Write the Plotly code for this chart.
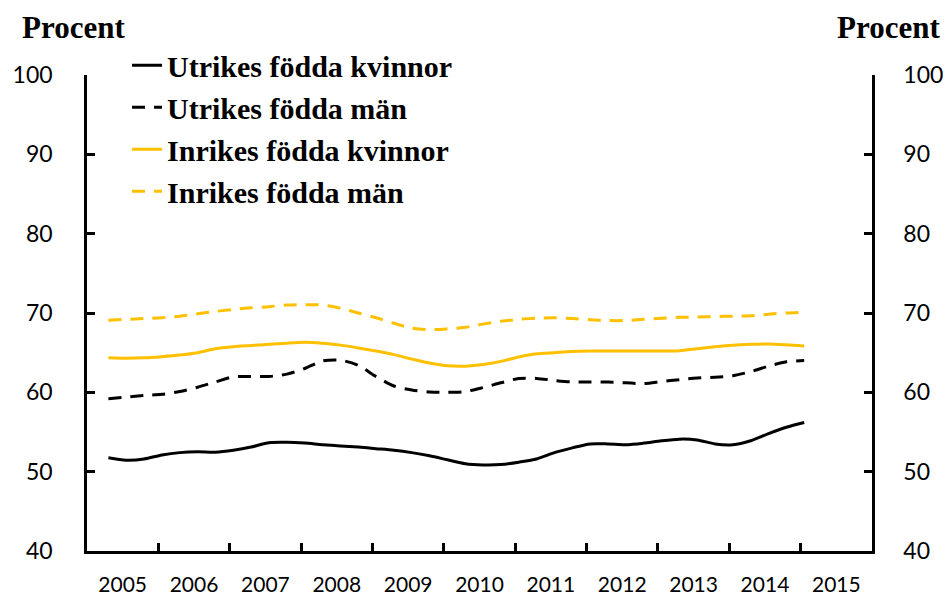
import plotly.graph_objects as go

# Quarterly observations (decimal year positions)
quarters = [2005.3 + 0.25 * i for i in range(40)]

utrikes_kvinnor = [51.75, 51.45, 51.6, 52.1, 52.4, 52.5, 52.45, 52.7, 53.1, 53.65,
                   53.7, 53.6, 53.4, 53.25, 53.1, 52.9, 52.7, 52.4, 52.0, 51.5,
                   51.0, 50.85, 50.9, 51.2, 51.6, 52.4, 53.0, 53.5, 53.5, 53.4,
                   53.6, 53.9, 54.1, 54.0, 53.5, 53.4, 53.9, 54.8, 55.6, 56.2]

utrikes_man = [59.2, 59.4, 59.6, 59.75, 60.1, 60.65, 61.3, 61.95, 62.0, 62.0,
               62.3, 63.0, 63.95, 64.05, 63.4, 62.0, 60.8, 60.3, 60.05, 60.0,
               60.1, 60.6, 61.2, 61.75, 61.75, 61.5, 61.3, 61.3, 61.3, 61.2,
               61.1, 61.35, 61.6, 61.8, 61.9, 62.1, 62.6, 63.3, 63.85, 64.0]

inrikes_kvinnor = [64.35, 64.3, 64.35, 64.5, 64.7, 65.0, 65.5, 65.75, 65.9, 66.05,
                   66.2, 66.3, 66.2, 65.95, 65.6, 65.2, 64.75, 64.2, 63.7, 63.35,
                   63.3, 63.5, 63.9, 64.45, 64.85, 65.0, 65.15, 65.2, 65.2, 65.2,
                   65.2, 65.2, 65.25, 65.5, 65.75, 65.95, 66.05, 66.1, 66.0, 65.85]

inrikes_man = [69.1, 69.2, 69.3, 69.4, 69.6, 69.9, 70.2, 70.45, 70.65, 70.8,
               71.0, 71.05, 71.0, 70.6, 70.0, 69.4, 68.7, 68.1, 67.9, 68.0,
               68.2, 68.6, 68.95, 69.2, 69.35, 69.4, 69.3, 69.15, 69.05, 69.05,
               69.2, 69.35, 69.45, 69.5, 69.55, 69.6, 69.65, 69.85, 70.0, 70.1]

year_labels = [str(y) for y in range(2005, 2016)]
year_label_pos = [y + 0.5 for y in range(2005, 2016)]
year_ticks = list(range(2006, 2016))
y_ticks = [40, 50, 60, 70, 80, 90, 100]

BLACK = "#000000"
GOLD = "#FFC000"
DASH = "13px,9px"

series = [
    ("Utrikes födda kvinnor", utrikes_kvinnor, BLACK, "solid"),
    ("Utrikes födda män", utrikes_man, BLACK, DASH),
    ("Inrikes födda kvinnor", inrikes_kvinnor, GOLD, "solid"),
    ("Inrikes födda män", inrikes_man, GOLD, DASH),
]

fig = go.Figure()
for i, (name, vals, col, dash) in enumerate(series):
    fig.add_trace(go.Scatter(
        x=quarters, y=vals, name=name, mode="lines",
        line=dict(color=col, width=3, dash=dash, shape="spline", smoothing=0.8),
    ))

# invisible trace so that the right-hand axis is drawn
fig.add_trace(go.Scatter(
    x=quarters, y=inrikes_man, yaxis="y2", mode="lines",
    line=dict(width=0), opacity=0, showlegend=False, hoverinfo="skip",
))

y_tick_font = dict(family="Lato, Noto Sans, sans-serif", size=23, color="#000")
x_tick_font = dict(family="Lato, Noto Sans, sans-serif", size=21, color="#000")
legend_font = dict(family="Liberation Serif, serif", size=30, color="#000", weight="bold")
title_font = dict(family="Liberation Serif, serif", size=31, color="#000", weight="bold")

fig.update_layout(
    width=949, height=596,
    margin=dict(l=87, r=77, t=75, b=45),
    paper_bgcolor="white", plot_bgcolor="white",
    showlegend=True,
    legend=dict(
        x=0.051, y=1.075, xanchor="left", yanchor="top",
        font=legend_font,
        bgcolor="rgba(0,0,0,0)", itemwidth=30,
    ),
    xaxis=dict(
        range=[2005, 2016], showgrid=False, zeroline=False, automargin=False,
        showline=True, linecolor="#000", linewidth=2.5,
        tickmode="array", tickvals=year_label_pos, ticktext=year_labels,
        ticks="", tickfont=x_tick_font, ticklabelstandoff=13,
        minor=dict(tickmode="array", tickvals=year_ticks, ticks="inside",
                   ticklen=8, tickwidth=2.5, tickcolor="#000", showgrid=False),
    ),
    yaxis=dict(
        range=[40, 100], showgrid=False, zeroline=False, automargin=False,
        showline=True, linecolor="#000", linewidth=2.5,
        tickmode="array", tickvals=y_ticks, ticks="inside",
        ticklen=8, tickwidth=2.5, tickcolor="#000",
        tickfont=y_tick_font, ticklabelstandoff=27,
    ),
    yaxis2=dict(
        range=[40, 100], overlaying="y", side="right", showgrid=False,
        zeroline=False, automargin=False, showline=True, linecolor="#000", linewidth=2.5,
        tickmode="array", tickvals=y_ticks, ticks="inside",
        ticklen=8, tickwidth=2.5, tickcolor="#000",
        tickfont=y_tick_font, ticklabelstandoff=24,
    ),
    annotations=[
        dict(text="Procent", xref="paper", yref="paper", x=-0.0854, y=1.099,
             xanchor="left", yanchor="middle", showarrow=False, font=title_font),
        dict(text="Procent", xref="paper", yref="paper", x=1.089, y=1.099,
             xanchor="right", yanchor="middle", showarrow=False, font=title_font),
    ],
)

# remove the default page margin so the 949x596 figure fills the window exactly
fig.write_html(
    "out.html",
    config={"displayModeBar": False},
    post_script="document.body.style.margin='0';document.body.style.overflow='hidden';",
)
